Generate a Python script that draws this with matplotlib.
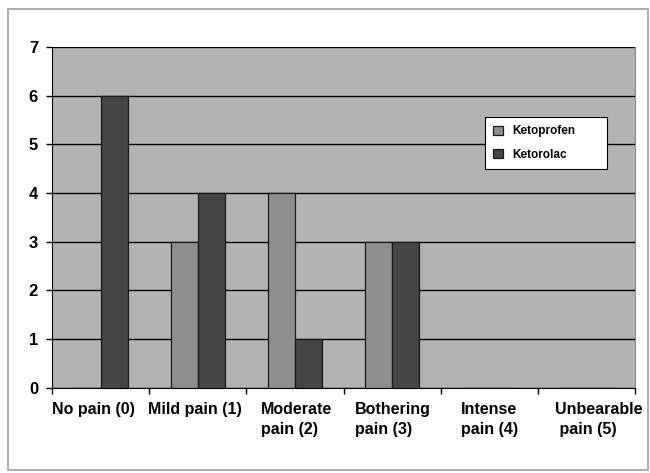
import numpy as np
import matplotlib
matplotlib.use("Agg")
import matplotlib.pyplot as plt
import matplotlib.transforms as mtransforms
from matplotlib.patches import Rectangle

categories = ["No pain (0)", "Mild pain (1)", "Moderate\npain (2)",
              "Bothering\npain (3)", "Intense\npain (4)", "Unbearable\n pain (5)"]
ketoprofen = [0, 3, 4, 3, 0, 0]
ketorolac = [6, 4, 1, 3, 0, 0]
series_names = ["Ketoprofen", "Ketorolac"]
y_ticks = [0, 1, 2, 3, 4, 5, 6, 7]

plt.rcParams['font.family'] = ['Liberation Sans', 'DejaVu Sans']

fig = plt.figure(figsize=(6.5, 4.73), dpi=100)
ax = fig.add_axes([0.08, 0.18, 0.897, 0.7206])

# gray outer frame around the whole picture
fig.patches.append(Rectangle((8 / 650, 3 / 473), 640 / 650, 461 / 473,
                             transform=fig.transFigure, fill=False,
                             edgecolor="#a0a0a0", linewidth=1.2))

ax.set_facecolor("#b3b3b3")
x = np.arange(len(categories))
w = 0.28
ax.bar(x - w / 2, ketoprofen, w, color="#8e8e8e", edgecolor="#1a1a1a",
       linewidth=0.9, label=series_names[0], zorder=3)
ax.bar(x + w / 2, ketorolac, w, color="#454545", edgecolor="#1a1a1a",
       linewidth=0.9, label=series_names[1], zorder=3)

ax.set_xlim(-0.5, len(categories) - 0.5)
ax.set_ylim(0, 7)
ax.set_yticks(y_ticks)
ax.set_yticklabels([str(t) for t in y_ticks], fontsize=12, fontweight="bold")
ax.yaxis.grid(True, color="black", linewidth=1.0, zorder=1)
ax.set_axisbelow(True)

# tick marks at category boundaries, labels at centres
ax.set_xticks(np.arange(-0.5, len(categories), 1.0))
ax.set_xticklabels([])
ax.set_xticks(x, minor=True)
labels = ax.set_xticklabels(categories, minor=True, fontsize=11.5,
                            fontweight="bold", va="top",
                            multialignment="left", linespacing=1.45)
ax.tick_params(axis="x", which="minor", length=0, pad=10)
ax.tick_params(axis="x", which="major", length=4, width=1, direction="out")
ax.tick_params(axis="y", length=4, width=1, direction="out", pad=6)

# small horizontal nudges like in the original spreadsheet chart
nudges = [-7, -3, 2, 1, 0, 12]
for lab, dx in zip(labels, nudges):
    lab.set_transform(lab.get_transform() +
                      mtransforms.ScaledTranslation(dx / 100, 0, fig.dpi_scale_trans))

ax.spines["top"].set_visible(False)
ax.spines["right"].set_color("#8a8a8a")
ax.spines["left"].set_color("black")
ax.spines["bottom"].set_color("black")

leg = ax.legend(loc="upper left", bbox_to_anchor=(0.743, 0.648, 0.209, 0.147),
                mode="expand", prop={"weight": "bold", "size": 8.5},
                frameon=True, fancybox=False, edgecolor="black",
                handlelength=0.8, handleheight=0.8, borderpad=0.7,
                labelspacing=1.0, handletextpad=0.8, borderaxespad=0)
leg.get_frame().set_linewidth(0.8)
leg.get_frame().set_facecolor("white")
leg.get_frame().set_alpha(1)

fig.savefig("out.png", dpi=100)
